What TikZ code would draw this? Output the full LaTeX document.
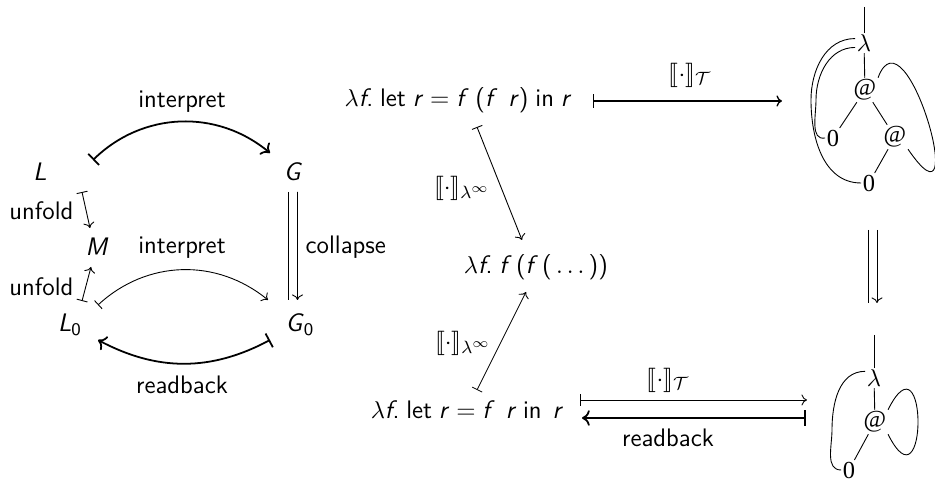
\documentclass[tikz,border=0pt]{standalone}
\usepackage{fontspec}
\usepackage{amsmath}
\usepackage{stmaryrd}
\usetikzlibrary{arrows.meta}
\newfontfamily\graphfont{Liberation Serif}
\newcommand{\sem}[1]{\llbracket\cdot\rrbracket_{#1}}
\newcommand{\vr}[1]{\textsl{#1}}
\newcommand{\termfont}{\sffamily\fontsize{11.4}{13.7}\selectfont\frenchspacing\spaceskip 0.27em\relax}

\begin{document}
\begin{tikzpicture}[x=0.45pt, y=0.45pt,
      font=\sffamily\fontsize{11.4}{13.7}\selectfont,
      obj/.style={inner sep=1pt},
      term/.style={inner sep=1pt, font=\termfont},
      lbl/.style={inner sep=1pt},
      gnode/.style={inner sep=0.6pt, font=\graphfont\fontsize{11}{13}\selectfont},
      mapthin/.style={{Bar[width=5pt]}-{To[length=2.5pt, width=5pt]}},
      mapmid/.style={semithick, {Bar[width=6pt]}-{To[length=2.5pt, width=5pt]}},
      mapthick/.style={thick, {Bar[width=7pt]}-{To[length=3.5pt, width=7pt]}},
      arrthin/.style={-{To[length=2.5pt, width=5pt]}}
    ]
    \useasboundingbox (0,0) rectangle (935,481);

    % left square
    \node[obj] (L)  at (40,309)  {\vr{L}};
    \node[obj] (G)  at (293,309) {\vr{G}};
    \node[obj] (M)  at (97,234)  {\vr{M}};
    \node[obj] (L0) at (70,156)  {\vr{L}$_{\mathsf{0}}$};
    \node[obj] (G0) at (300,156) {\vr{G}$_{\mathsf{0}}$};

    \draw[mapthick] ([shift={(53,12)}]L.center) to[bend left=42] ([shift={(-23,19)}]G.center);
    \node[lbl] (int1) at (182,379) {interpret};

    \draw[mapthin] ([shift={(42,-20)}]L.center) -- ([shift={(-7,19)}]M.center);
    \node[lbl, anchor=east] (unf1) at (76,270) {unfold};
    \draw[mapthin] ([shift={(12,24)}]L0.center) -- ([shift={(-6,-20)}]M.center);
    \node[lbl, anchor=east] (unf2) at (76,194) {unfold};

    \draw[mapthin] ([shift={(28,20)}]L0.center) to[bend left=41] ([shift={(-32,25)}]G0.center);
    \node[lbl] (int2) at (182,233) {interpret};

    \draw ([shift={(-4.5,-20)}]G.center) -- ([shift={(-11.5,25)}]G0.center);
    \draw[arrthin] ([shift={(4.5,-20)}]G.center) -- ([shift={(-2.5,25)}]G0.center);
    \node[lbl, anchor=west] (col) at (303,234) {collapse};

    \draw[mapthick] ([shift={(-30,-15)}]G0.center) to[bend left=28] ([shift={(28,-15)}]L0.center);
    \node[lbl] (rb1) at (182,96) {readback};

    % terms
    \node[term] (t1) at (458,381) {$\lambda$\vr{f}. let \vr{r} = \vr{f} (\vr{f}\,~\vr{r}) in \vr{r}};
    \node[term] (t2) at (536,214) {$\lambda$\vr{f}. \vr{f}\,(\vr{f}\,(\,$\ldots$\,))};
    \node[term] (t3) at (467,71)  {$\lambda$\vr{f}. let \vr{r} = \vr{f}\,~\vr{r} in\,~\vr{r}};

    \draw[mapthin] ([shift={(19,-27)}]t1.center) -- ([shift={(-14,27)}]t2.center);
    \node[lbl] (s1) at (462,293) {$\sem{\lambda^\infty}$};
    \draw[mapthin] ([shift={(10,20)}]t3.center) -- ([shift={(-10,-25)}]t2.center);
    \node[lbl] (s2) at (463,138) {$\sem{\lambda^\infty}$};

    % top graph
    \node[gnode] (lam1) at (864,438) {$\lambda$};
    \node[gnode] (app1) at (865,391) {@};
    \node[gnode] (za)   at (833,343) {0};
    \node[gnode] (app2) at (895,344) {@};
    \node[gnode] (zb)   at (869,298) {0};
    \coordinate (root1) at (864,474);
    \coordinate (li1) at (816,381);
    \coordinate (lo1) at (811,381);
    \draw (root1) -- (lam1);
    \draw (lam1) -- (app1);
    \draw (app1) -- (za);
    \draw (app1) -- (app2);
    \draw (app2) -- (zb);
    \draw ([yshift=-2]lam1.west) to[out=180, in=90] (li1) to[out=-90, in=190] (za.west);
    \draw ([yshift=2]lam1.west) to[out=180, in=90] (lo1) to[out=-90, in=180] (zb.west);
    \draw (app1.north east) .. controls +(28,75) and +(65,-95) .. (app2.south east);

    \draw[mapmid] ([shift={(135,-1)}]t1.center) -- ([shift={(-82,-58)}]lam1.center);
    \node[lbl] (s3) at (690,406) {$\sem{\mathcal{T}}$};

    % bottom graph
    \node[gnode] (lam2) at (874,103) {$\lambda$};
    \node[gnode] (app3) at (875,59)  {@};
    \node[gnode] (zc)   at (849,11)  {0};
    \coordinate (root2) at (874,146);
    \coordinate (lo2) at (832,51);
    \draw (root2) -- (lam2);
    \draw (lam2) -- (app3);
    \draw (app3) -- (zc);
    \draw ([yshift=3]lam2.west) to[out=180, in=90] (lo2) to[out=-90, in=180] (zc.west);
    \draw (app3.north east) .. controls +(40,80) and +(40,-80) .. (app3.south east);

    \draw ([shift={(-1,-47)}]zb.center) -- ([shift={(-6,32)}]root2);
    \draw[arrthin] ([shift={(8,-47)}]zb.center) -- ([shift={(3,32)}]root2);

    \draw[mapthin] ([shift={(113,10)}]t3.center) -- ([shift={(-67,-22)}]lam2.center);
    \node[lbl] (s4) at (668,101) {$\sem{\mathcal{T}}$};
    \draw[mapthick] ([shift={(-68,-40)}]lam2.center) -- ([shift={(115,-8)}]t3.center);
    \node[lbl] (rb2) at (668,43) {readback};
  \end{tikzpicture}
\end{document}
